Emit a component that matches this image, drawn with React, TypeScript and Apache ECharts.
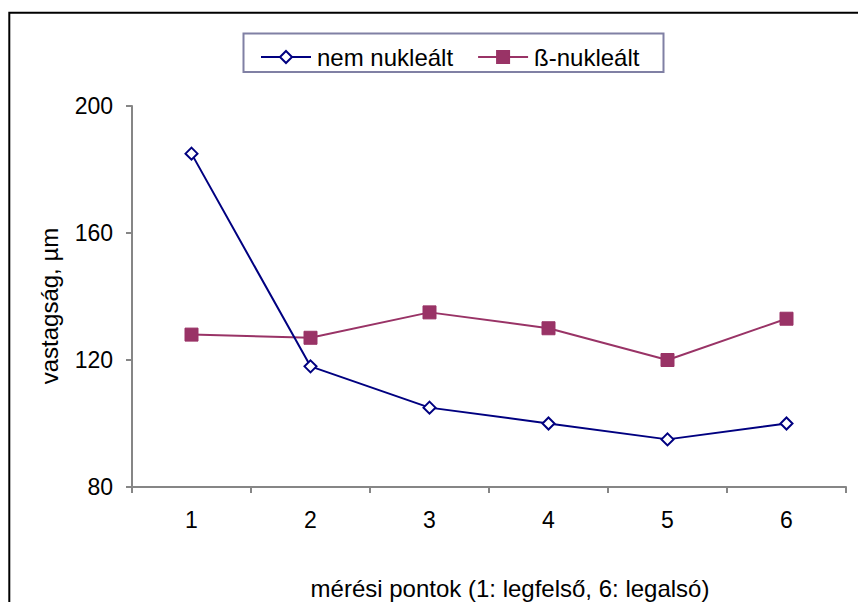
import React, { useEffect, useRef } from "react";
import * as echarts from "echarts";

const categories = ["1", "2", "3", "4", "5", "6"];
const nemNuklealt = [185, 118, 105, 100, 95, 100];
const betaNuklealt = [128, 127, 135, 130, 120, 133];
const seriesNames = ["nem nukleált", "ß-nukleált"];
const xTitle = "mérési pontok (1: legfelső, 6: legalsó)";
const yTitle = "vastagság, µm";

const FONT = "Liberation Sans, Arial, sans-serif";

export default function App() {
  const ref = useRef<HTMLDivElement>(null);
  useEffect(() => {
    if (!ref.current) return;
    const chart = echarts.init(ref.current, null, { renderer: "svg" });
    chart.setOption({
      animation: false,
      backgroundColor: "#fff",
      textStyle: { fontFamily: FONT },
      grid: { left: 132, top: 106, right: 12, bottom: 115, containLabel: false },
      legend: {
        left: 255,
        top: 40,
        itemWidth: 50,
        itemHeight: 15,
        itemGap: 24,
        textStyle: { fontSize: 24, color: "#000", fontFamily: FONT, padding: [0, 0, 0, 1] },
        data: seriesNames,
      },
      xAxis: {
        type: "category",
        data: categories,
        boundaryGap: true,
        axisLine: { lineStyle: { color: "#868686", width: 2 } },
        axisTick: { show: true, length: 6, lineStyle: { color: "#868686", width: 2 } },
        axisLabel: { fontSize: 23, color: "#000", margin: 21, fontFamily: FONT },
        splitLine: { show: false },
      },
      yAxis: {
        type: "value",
        min: 80,
        max: 200,
        interval: 40,
        axisLine: { show: true, lineStyle: { color: "#868686", width: 2 } },
        axisTick: { show: true, length: 6, lineStyle: { color: "#868686", width: 2 } },
        axisLabel: { fontSize: 23, color: "#000", margin: 19, fontFamily: FONT },
        splitLine: { show: false },
      },
      graphic: [
        {
          type: "rect",
          silent: true,
          shape: { x: 9.3, y: 12.8, width: 1000, height: 1000 },
          style: { fill: "none", stroke: "#000", lineWidth: 2 },
        },
        {
          type: "rect",
          silent: true,
          shape: { x: 243.5, y: 33.5, width: 420, height: 38.5 },
          style: { fill: "none", stroke: "#8080a4", lineWidth: 2 },
        },
        {
          type: "text",
          silent: true,
          x: 510,
          y: 588,
          style: {
            text: xTitle,
            fontSize: 24,
            fontFamily: FONT,
            fill: "#000",
            align: "center",
            verticalAlign: "middle",
          },
        },
        {
          type: "text",
          silent: true,
          x: 49,
          y: 306,
          rotation: Math.PI / 2,
          style: {
            text: yTitle,
            fontSize: 24,
            fontFamily: FONT,
            fill: "#000",
            align: "center",
            verticalAlign: "middle",
          },
        },
      ],
      series: [
        {
          name: seriesNames[0],
          type: "line",
          data: nemNuklealt,
          symbol: "diamond",
          symbolSize: 12,
          showAllSymbol: true,
          lineStyle: { color: "#000080", width: 2 },
          itemStyle: { color: "#fff", borderColor: "#000080", borderWidth: 2 },
          z: 3,
        },
        {
          name: seriesNames[1],
          type: "line",
          data: betaNuklealt,
          symbol: "rect",
          symbolSize: 13,
          showAllSymbol: true,
          lineStyle: { color: "#993366", width: 2 },
          itemStyle: { color: "#993366", borderColor: "#993366", borderWidth: 1 },
          z: 2,
        },
      ],
    });
    return () => chart.dispose();
  }, []);
  return (
    <div
      ref={ref}
      style={{ position: "fixed", left: 0, top: 0, width: 858, height: 602 }}
    />
  );
}
